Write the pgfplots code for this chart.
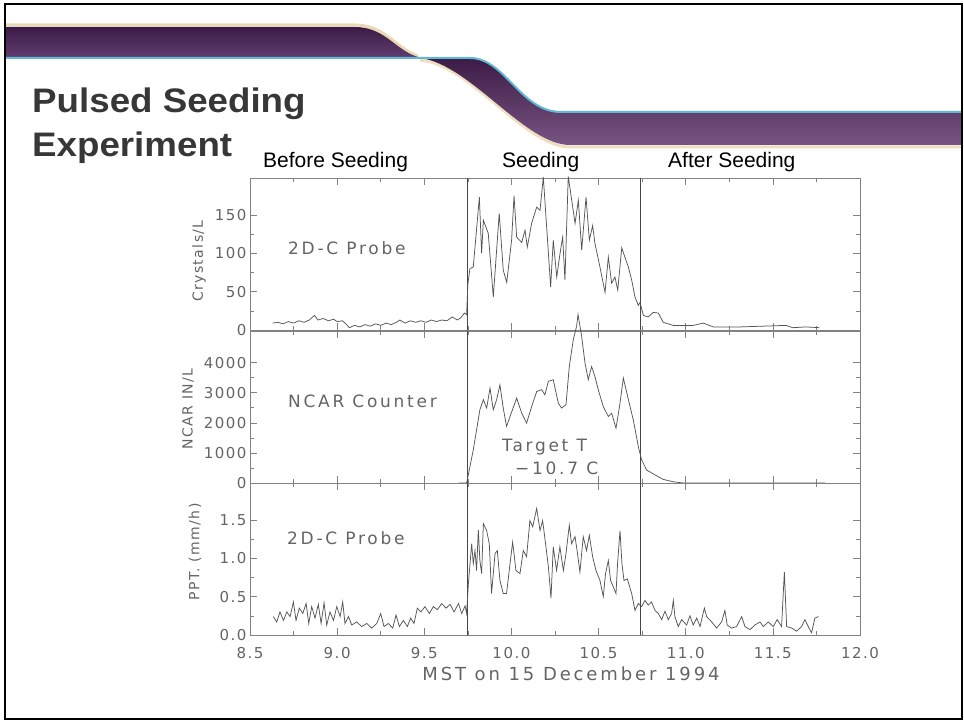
\documentclass[border=0pt]{standalone}
\usepackage{fontspec}
\setmainfont{Liberation Sans}
\newfontfamily\titlefont[FakeStretch=1.08]{Liberation Sans}
\newfontfamily\chartfont[LetterSpace=10]{DejaVu Sans}
\newfontfamily\widefont[LetterSpace=16]{DejaVu Sans}
\usepackage{pgfplots}
\pgfplotsset{compat=1.18}

\definecolor{plotgray}{RGB}{85,85,85}
\definecolor{axgray}{RGB}{130,130,130}
\definecolor{seedgray}{RGB}{70,70,70}
\definecolor{txtgray}{RGB}{100,100,100}
\definecolor{titlegray}{RGB}{55,55,55}
\definecolor{bandA}{RGB}{60,28,70}
\definecolor{bandB}{RGB}{95,60,110}
\definecolor{bandC}{RGB}{120,84,130}
\definecolor{cyanline}{RGB}{95,185,210}
\definecolor{glow}{RGB}{225,190,130}

\pgfplotsset{
  panel/.style={
    scale only axis, width=610pt, height=152pt,
    anchor=south west,
    xmin=8.5, xmax=12.0,
    xtick={8.5,9.0,...,12.0}, minor x tick num=1,
    tick align=inside, tick pos=both,
    major tick length=7pt, minor tick length=4pt,
    axis line style={axgray, line width=0.8pt},
    tick style={axgray, line width=0.6pt},
    tick label style={font=\chartfont\fontsize{15}{15}\selectfont, text=txtgray},
    /pgf/number format/assume math mode=true,
    clip=false,
  },
  data/.style={plotgray, line width=0.75pt, no marks},
  seed/.style={seedgray, line width=0.8pt, no marks},
}

\begin{document}
\begin{tikzpicture}
\path (0pt,0pt) rectangle (964pt,721pt);

% --- top panel: crystals
\begin{axis}[panel, at={(250pt,391pt)}, ymin=0, ymax=198,
  ytick={0,50,100,150}, minor y tick num=1, xticklabels={}]
\addplot[seed] coordinates {(9.75,0) (9.75,198)};
\addplot[seed] coordinates {(10.74,0) (10.74,198)};
\addplot[data] coordinates {
(8.63,9) (8.66,10) (8.69,8) (8.72,11) (8.75,9) (8.78,12) (8.81,10) (8.84,13)
(8.87,19) (8.89,13) (8.92,15) (8.95,12) (8.98,14) (9.00,11) (9.03,12) (9.05,8)
(9.07,3) (9.10,6) (9.13,4) (9.16,7) (9.19,5) (9.22,8) (9.25,6) (9.28,9)
(9.31,7) (9.34,10) (9.36,13) (9.39,9) (9.42,12) (9.45,10) (9.48,12) (9.51,10)
(9.54,13) (9.57,11) (9.60,13) (9.63,12) (9.66,17) (9.69,13) (9.71,16) (9.73,22)
(9.743,20) (9.750,60) (9.762,80) (9.781,82) (9.816,173) (9.829,100) (9.839,143)
(9.867,126) (9.896,43) (9.930,152) (9.953,78) (9.973,62) (10.001,117) (10.015,175)
(10.030,121) (10.059,114) (10.078,130) (10.091,108) (10.116,139) (10.145,160)
(10.164,156) (10.183,199) (10.206,121) (10.225,56) (10.240,117) (10.260,69)
(10.279,100) (10.294,121) (10.307,65) (10.326,200) (10.346,169) (10.365,139)
(10.384,169) (10.403,104) (10.428,173) (10.447,117) (10.466,136) (10.479,113)
(10.508,82) (10.537,49) (10.556,95) (10.575,61) (10.594,69) (10.610,52)
(10.633,107) (10.651,95) (10.671,82) (10.690,65) (10.709,43) (10.728,32)
(10.738,36) (10.757,19) (10.785,17) (10.814,23) (10.843,22) (10.871,10)
(10.929,6) (11.043,6) (11.101,9) (11.158,4) (11.311,4) (11.576,6) (11.614,3)
(11.690,4) (11.767,3)
};
\end{axis}

% --- middle panel: NCAR counter
\begin{axis}[panel, at={(250pt,238pt)}, ymin=0, ymax=5050,
  ytick={0,1000,2000,3000,4000}, minor y tick num=1, xticklabels={},
  yticklabel style={/pgf/number format/1000 sep={}}]
\addplot[seed] coordinates {(9.75,0) (9.75,5050)};
\addplot[seed] coordinates {(10.74,0) (10.74,5050)};
\addplot[data] coordinates {
(9.70,0) (9.743,0) (9.781,1100) (9.819,2430) (9.839,2770) (9.858,2490) (9.877,3150)
(9.896,2430) (9.915,2770) (9.934,3260) (9.953,2490) (9.972,1880) (9.992,2210)
(10.030,2820) (10.059,2320) (10.087,1990) (10.116,2540) (10.145,3040) (10.173,3100)
(10.192,2930) (10.212,3380) (10.240,3430) (10.269,2650) (10.288,2490) (10.313,2600)
(10.332,3870) (10.355,4760) (10.374,5210) (10.382,5600) (10.403,4870) (10.422,3990)
(10.441,3430) (10.460,3870) (10.479,3540) (10.498,3100) (10.527,2540) (10.556,2210)
(10.575,2320) (10.600,1820) (10.623,2650) (10.642,3490) (10.671,2770) (10.699,2100)
(10.728,1210) (10.747,770) (10.776,430) (10.824,270) (10.871,120) (10.929,40)
(10.986,0) (11.8,0)
};
\end{axis}

% --- bottom panel: precipitation
\begin{axis}[panel, at={(250pt,86pt)}, ymin=0, ymax=1.98,
  ytick={0,0.5,1,1.5}, minor y tick num=1,
  yticklabel style={/pgf/number format/.cd, fixed, fixed zerofill, precision=1},
  xticklabel style={yshift=-9pt, /pgf/number format/.cd, fixed, fixed zerofill, precision=1}]
\addplot[seed] coordinates {(9.75,0) (9.75,1.98)};
\addplot[seed] coordinates {(10.74,0) (10.74,1.98)};
\addplot[data] coordinates {
(8.634,0.24) (8.653,0.17) (8.672,0.30) (8.692,0.19) (8.711,0.30) (8.730,0.24)
(8.749,0.43) (8.764,0.19) (8.783,0.35) (8.803,0.28) (8.822,0.41) (8.837,0.15)
(8.854,0.37) (8.873,0.22) (8.892,0.40) (8.908,0.15) (8.925,0.42) (8.940,0.13)
(8.959,0.30) (8.979,0.19) (8.998,0.37) (9.017,0.24) (9.032,0.43) (9.045,0.15)
(9.065,0.24) (9.084,0.13) (9.112,0.17) (9.141,0.11) (9.170,0.15) (9.198,0.09)
(9.227,0.15) (9.250,0.28) (9.269,0.11) (9.294,0.15) (9.319,0.09) (9.338,0.26)
(9.357,0.11) (9.380,0.19) (9.403,0.11) (9.422,0.22) (9.441,0.15) (9.460,0.35)
(9.480,0.30) (9.504,0.37) (9.529,0.28) (9.552,0.37) (9.575,0.33) (9.600,0.41)
(9.625,0.35) (9.648,0.40) (9.671,0.30) (9.696,0.41) (9.715,0.28) (9.734,0.38)
(9.743,0.28) (9.753,0.67) (9.772,1.19) (9.781,0.93) (9.791,1.10) (9.800,0.84)
(9.810,1.37) (9.819,0.97) (9.829,0.80) (9.839,1.45) (9.858,1.36) (9.873,1.19)
(9.886,0.54) (9.906,1.06) (9.919,1.10) (9.934,0.71) (9.953,0.54) (9.972,0.54)
(9.992,0.93) (10.007,1.21) (10.026,0.84) (10.049,0.80) (10.068,1.10) (10.087,1.02)
(10.106,1.49) (10.122,1.41) (10.145,1.65) (10.164,1.36) (10.179,1.49) (10.198,1.15)
(10.212,0.89) (10.227,0.48) (10.240,1.15) (10.259,0.84) (10.278,1.15) (10.298,0.84)
(10.313,1.06) (10.332,1.43) (10.345,1.19) (10.365,1.28) (10.378,1.08) (10.393,0.82)
(10.412,1.28) (10.431,1.10) (10.447,1.30) (10.466,1.02) (10.485,0.84) (10.508,0.71)
(10.527,0.50) (10.540,0.80) (10.556,0.97) (10.569,0.71) (10.584,0.63) (10.600,0.54)
(10.609,0.93) (10.623,1.36) (10.634,0.93) (10.646,0.71) (10.665,0.73) (10.690,0.54)
(10.709,0.32) (10.728,0.41) (10.747,0.37) (10.766,0.45) (10.785,0.39) (10.804,0.43)
(10.824,0.32) (10.843,0.28) (10.862,0.20) (10.881,0.31) (10.900,0.20) (10.919,0.28)
(10.929,0.45) (10.938,0.24) (10.957,0.11) (10.977,0.20) (11.005,0.13) (11.024,0.25)
(11.043,0.13) (11.063,0.22) (11.082,0.11) (11.107,0.35) (11.120,0.24) (11.149,0.17)
(11.177,0.09) (11.206,0.17) (11.225,0.32) (11.238,0.13) (11.263,0.09) (11.292,0.11)
(11.321,0.24) (11.340,0.11) (11.369,0.07) (11.397,0.13) (11.426,0.17) (11.445,0.11)
(11.474,0.17) (11.502,0.11) (11.525,0.20) (11.550,0.11) (11.566,0.82) (11.579,0.11)
(11.608,0.09) (11.636,0.05) (11.665,0.11) (11.684,0.20) (11.703,0.11) (11.722,0.03)
(11.741,0.22) (11.761,0.24)
};
\end{axis}

% --- banner and slide text, in image coordinates (y down, pt)
\begin{scope}[x=1pt, y=-1pt, yshift=721pt]
  \draw[glow, line width=3pt, opacity=0.6] (5,25) -- (355,25) .. controls (385,25) and (395,48) .. (418,56);
  \shade[top color=bandA, bottom color=bandB] (5,27) -- (355,27) .. controls (385,27) and (395,50) .. (418,57) -- (5,57) -- cycle;
  \draw[glow, line width=3pt, opacity=0.5] (420,60) .. controls (470,64) and (525,147) .. (570,147) -- (962,147);
  \shade[top color=bandA, bottom color=bandC] (420,58) -- (470,58) .. controls (505,58) and (520,111) .. (560,112) -- (962,112) -- (962,145) -- (570,145) .. controls (525,145) and (470,64) .. (420,58) -- cycle;
  \draw[cyanline, line width=2pt] (5,58) -- (470,58) .. controls (505,58) and (520,111) .. (560,112) -- (962,112);

  \node[anchor=base west, inner sep=0, text=titlegray, font=\titlefont\bfseries\fontsize{34}{34}\selectfont] at (32,113) {Pulsed Seeding};
  \node[anchor=base west, inner sep=0, text=titlegray, font=\titlefont\bfseries\fontsize{34}{34}\selectfont] at (32,157) {Experiment};
  \node[anchor=base west, inner sep=0, font=\fontsize{21}{21}\selectfont] at (263,168) {Before Seeding};
  \node[anchor=base west, inner sep=0, font=\fontsize{21}{21}\selectfont] at (502,168) {Seeding};
  \node[anchor=base west, inner sep=0, font=\fontsize{21}{21}\selectfont] at (668,168) {After Seeding};

  \node[anchor=west, inner sep=0, text=txtgray, font=\widefont\fontsize{17}{17}\selectfont] at (288,248) {2D-C Probe};
  \node[anchor=west, inner sep=0, text=txtgray, font=\widefont\fontsize{17}{17}\selectfont] at (288,401) {NCAR Counter};
  \node[anchor=west, inner sep=0, text=txtgray, font=\widefont\fontsize{17}{17}\selectfont] at (502,447) {Target T};
  \node[anchor=west, inner sep=0, text=txtgray, font=\widefont\fontsize{17}{17}\selectfont] at (515,468) {−10.7 C};
  \node[anchor=west, inner sep=0, text=txtgray, font=\widefont\fontsize{17}{17}\selectfont] at (287,538) {2D-C Probe};

  \node[rotate=90, inner sep=0, text=txtgray, font=\chartfont\fontsize{14}{14}\selectfont] at (199,261) {Crystals/L};
  \node[rotate=90, inner sep=0, text=txtgray, font=\chartfont\fontsize{14}{14}\selectfont] at (188,409) {NCAR IN/L};
  \node[rotate=90, inner sep=0, text=txtgray, font=\chartfont\fontsize{14}{14}\selectfont] at (195,552) {PPT. (mm/h)};
  \node[inner sep=0, text=txtgray, font=\widefont\fontsize{18}{18}\selectfont] at (571,674) {MST on 15 December 1994};

  \draw[black, line width=2pt] (5,4) rectangle (962,719);
\end{scope}
\end{tikzpicture}
\end{document}
